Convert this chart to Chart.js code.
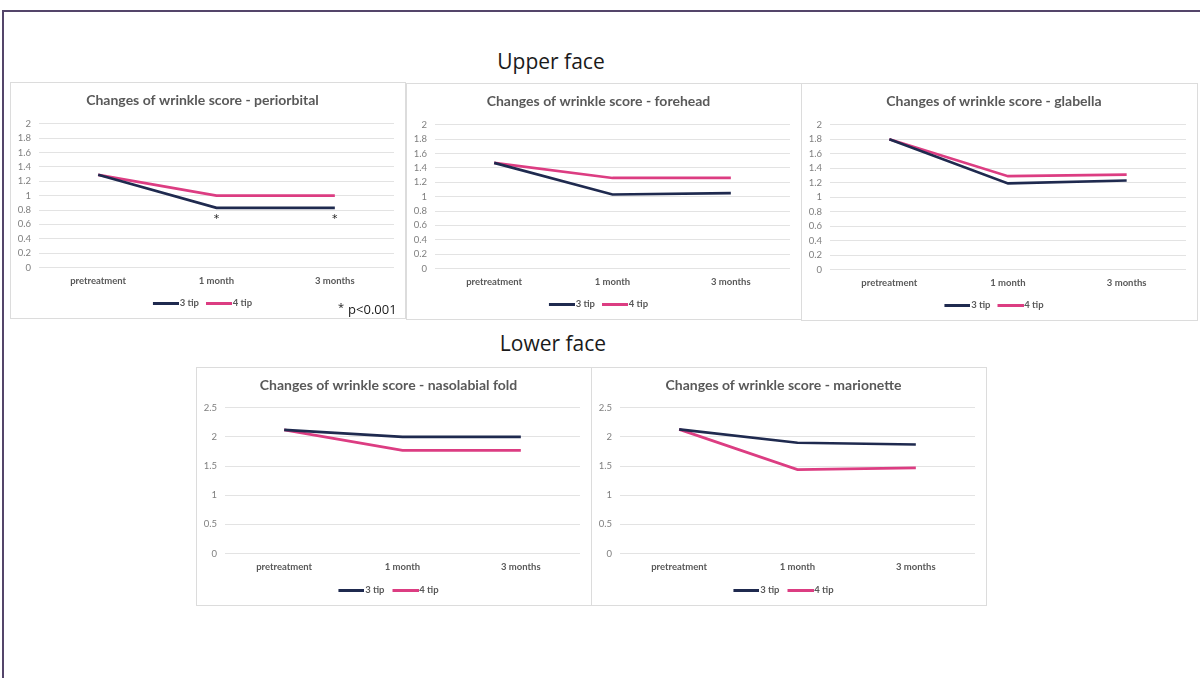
<!DOCTYPE html>
<html>
<head>
<meta charset="utf-8">
<title>Changes of wrinkle score</title>
<script src="https://cdn.jsdelivr.net/npm/chart.js@4.4.1/dist/chart.umd.min.js"></script>
<style>
  html, body { margin: 0; padding: 0; background: #ffffff; }
  body { width: 1200px; height: 678px; position: relative; overflow: hidden; }
  .frame { position: absolute; left: 2px; top: 10px; right: -10px; bottom: -10px;
           border-top: 2px solid #54456a; border-left: 2px solid #54456a; }
  .heading { position: absolute; font-family: "Open Sans", "Noto Sans", sans-serif;
             font-size: 21px; color: #1a1a1a; white-space: nowrap; transform: translateX(-50%); }
  .panel { position: absolute; background: #fff; box-shadow: 0 0 0 1px #dcdcdc; }
  .panel canvas { display: block; }
  .note { position: absolute; font-family: "Open Sans", "Noto Sans", sans-serif;
          font-size: 13px; color: #1a1a1a; white-space: nowrap; }
  .note sup { font-size: 11px; position: relative; top: 2px; margin-right: 4px; }
</style>
</head>
<body>
<div class="frame"></div>
<div class="heading" style="left:551px; top:47px;">Upper face</div>
<div class="heading" style="left:553px; top:329px;">Lower face</div>

<div class="panel" style="left:11px;  top:83px;  width:394px; height:235px;"><canvas id="c1" width="394" height="235"></canvas></div>
<div class="panel" style="left:407px; top:84px;  width:394px; height:235px;"><canvas id="c2" width="394" height="235"></canvas></div>
<div class="panel" style="left:802px; top:84px;  width:395px; height:236px;"><canvas id="c3" width="395" height="236"></canvas></div>
<div class="panel" style="left:197px; top:368px; width:394px; height:237px;"><canvas id="c4" width="394" height="237"></canvas></div>
<div class="panel" style="left:592px; top:368px; width:394px; height:237px;"><canvas id="c5" width="394" height="237"></canvas></div>

<div class="note" style="left:338px; top:297px;"><sup>*</sup>p&lt;0.001</div>

<script>
// Time points and series names
const timepoints = ['pretreatment', '1 month', '3 months'];
const seriesNames = ['3 tip', '4 tip'];

// Mean wrinkle scores per region (3 tip / 4 tip)
const periorbital3 = [1.29, 0.83, 0.83];
const periorbital4 = [1.29, 1.00, 1.00];
const forehead3    = [1.47, 1.03, 1.05];
const forehead4    = [1.47, 1.26, 1.26];
const glabella3    = [1.80, 1.19, 1.23];
const glabella4    = [1.80, 1.29, 1.31];
const nasolabial3  = [2.12, 2.00, 2.00];
const nasolabial4  = [2.12, 1.77, 1.77];
const marionette3  = [2.13, 1.90, 1.87];
const marionette4  = [2.13, 1.44, 1.47];

// Y-axis tick values
const upperTicks = [0, 0.2, 0.4, 0.6, 0.8, 1, 1.2, 1.4, 1.6, 1.8, 2];
const lowerTicks = [0, 0.5, 1, 1.5, 2, 2.5];

// Points marked significant (3 tip, periorbital)
const periorbitalSig = [1, 2];

const NAVY = '#1f2a4f';
const PINK = '#dc3d82';
const FONT = 'Lato, "Open Sans", sans-serif';

// Legend swatch: a short line that runs right up to the label text
function legendSwatch(color) {
  const c = document.createElement('canvas');
  c.width = 30; c.height = 3;
  const g = c.getContext('2d');
  g.fillStyle = color;
  g.fillRect(4, 0, 26, 3);
  return c;
}
const navySwatch = legendSwatch(NAVY);
const pinkSwatch = legendSwatch(PINK);

// Draws an asterisk under the flagged points of the first dataset
const sigMarks = {
  id: 'sigMarks',
  afterDatasetsDraw(chart, args, opts) {
    if (!opts.indices || !opts.indices.length) return;
    const meta = chart.getDatasetMeta(0);
    const ctx = chart.ctx;
    ctx.save();
    ctx.fillStyle = '#222222';
    ctx.font = '11px "DejaVu Sans", sans-serif';
    ctx.textAlign = 'center';
    ctx.textBaseline = 'middle';
    opts.indices.forEach(i => {
      const p = meta.data[i];
      ctx.fillText('*', p.x, p.y + 11);
    });
    ctx.restore();
  }
};

function makeChart(id, title, s3, s4, ticks, lower, sig) {
  const maxV = ticks[ticks.length - 1];
  new Chart(document.getElementById(id), {
    type: 'line',
    data: {
      labels: timepoints,
      datasets: [
        { label: seriesNames[0], data: s3, borderColor: NAVY, backgroundColor: NAVY,
          borderWidth: 2.7, pointRadius: 0, pointStyle: navySwatch, tension: 0 },
        { label: seriesNames[1], data: s4, borderColor: PINK, backgroundColor: PINK,
          borderWidth: 2.7, pointRadius: 0, pointStyle: pinkSwatch, tension: 0 }
      ]
    },
    options: {
      responsive: false,
      animation: false,
      layout: { padding: { left: 0, right: 11, top: 0, bottom: 0 } },
      plugins: {
        title: {
          display: true, text: title, color: '#595959',
          font: { family: FONT, size: 14, weight: 'bold' },
          padding: { top: 9, bottom: lower ? 14 : 15 }
        },
        legend: {
          display: true, position: 'bottom',
          maxHeight: lower ? 28 : 27,
          labels: {
            usePointStyle: true, pointStyleWidth: 22,
            boxHeight: 9, padding: lower ? 8 : 7,
            color: '#595959', font: { family: FONT, size: 9.5, weight: 'bold' }
          }
        },
        tooltip: { enabled: false },
        sigMarks: { indices: sig || [] }
      },
      scales: {
        x: {
          type: 'category', offset: true,
          grid: { display: false, drawTicks: false },
          border: { display: false },
          ticks: { color: '#595959', padding: 8, maxRotation: 0,
                   font: { family: FONT, size: 9.5, weight: 'bold' } },
          afterFit(scale) { scale.height = 24; }
        },
        y: {
          min: 0, max: maxV,
          afterBuildTicks(scale) { scale.ticks = ticks.map(v => ({ value: v })); },
          grid: { color: '#e3e3e3', lineWidth: 1, drawTicks: false },
          border: { display: false },
          ticks: { color: '#7f7f7f', padding: 8, autoSkip: false,
                   font: { family: FONT, size: 9.5 },
                   callback: v => String(v) },
          afterFit(scale) { scale.width = 28; }
        }
      }
    },
    plugins: [sigMarks]
  });
}

makeChart('c1', 'Changes of wrinkle score - periorbital', periorbital3, periorbital4, upperTicks, false, periorbitalSig);
makeChart('c2', 'Changes of wrinkle score - forehead', forehead3, forehead4, upperTicks, false);
makeChart('c3', 'Changes of wrinkle score - glabella', glabella3, glabella4, upperTicks, false);
makeChart('c4', 'Changes of wrinkle score - nasolabial fold', nasolabial3, nasolabial4, lowerTicks, true);
makeChart('c5', 'Changes of wrinkle score - marionette', marionette3, marionette4, lowerTicks, true);
</script>
</body>
</html>
